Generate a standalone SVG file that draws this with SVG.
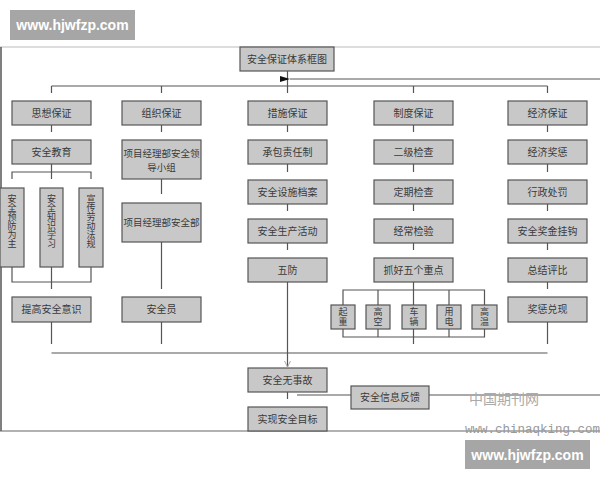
<svg xmlns="http://www.w3.org/2000/svg" width="600" height="480" viewBox="0 0 600 480">
<defs>
<style>
.b{fill:#c8c8c8;stroke:#555;stroke-width:1.2}
.t{font-family:"Noto Sans CJK SC","Noto Sans",sans-serif;font-size:10px;fill:#3a3a3a;text-anchor:middle}
.v{font-family:"Noto Sans CJK SC","Noto Sans",sans-serif;font-size:9px;fill:#3a3a3a;text-anchor:middle;writing-mode:vertical-rl}
.c{fill:none;stroke:#555;stroke-width:1.2}
.wm{fill:#a6a6a6}
.wmt{font-family:"Liberation Sans",Arial,sans-serif;font-size:14px;font-weight:bold;fill:#fff;text-anchor:middle}
</style>
<marker id="ah" viewBox="0 0 10 6" refX="0" refY="3" markerWidth="10" markerHeight="6" markerUnits="userSpaceOnUse" orient="auto-start-reverse">
<path d="M0,3 L10,0 L10,6 Z" fill="#111"/>
</marker>
<marker id="ag" viewBox="0 0 8 8" refX="7" refY="4" markerWidth="8" markerHeight="8" markerUnits="userSpaceOnUse" orient="auto">
<path d="M1,1 L7,4 L1,7" fill="none" stroke="#aaa" stroke-width="1"/>
</marker>
</defs>
<rect width="600" height="480" fill="#fff"/>
<!-- frame -->
<line x1="0" y1="47" x2="600" y2="47" stroke="#bbb" stroke-width="1.2"/>
<line x1="1" y1="47" x2="1" y2="431" stroke="#555" stroke-width="1.5"/>
<line x1="0" y1="431" x2="600" y2="431" stroke="#666" stroke-width="1.2"/>

<g id="connectors" class="c">
<path d="M287.5,71 V86"/>
<path d="M51.5,86 H547.5"/>
<path d="M51.5,86 V93 M161.5,86 V93 M287.5,86 V93 M413.5,86 V93 M547.5,86 V93"/>
<path d="M51.5,125 V132 M161.5,125 V132 M287.5,125 V132 M413.5,125 V132 M547.5,125 V132"/>
<path d="M287.5,164 V172 M413.5,164 V172 M547.5,164 V172"/>
<path d="M287.5,204 V211 M413.5,204 V211 M547.5,204 V211"/>
<path d="M287.5,243 V250 M413.5,243 V250 M547.5,243 V250"/>
<path d="M547.5,282 V289"/>
<!-- col 1 -->
<path d="M51.5,164 V172 M12,179 V172 H91 V179 M51.5,172 V179"/>
<path d="M12,267 V282 H91 V267 M51.5,267 V289"/>
<path d="M51.5,322 V344"/>
<!-- col 2 -->
<path d="M161.5,179 V194 M161.5,242 V289 M161.5,322 V344"/>
<!-- col 4 -->
<path d="M413.5,282 V290 M343,305 V290 H484.5 V305 M378,290 V305 M413.5,290 V305 M449,290 V305"/>
<path d="M343,329 V337 H484.5 V329 M378,329 V337 M413.5,329 V344 M449,329 V337"/>
<!-- col 5 -->
<path d="M547.5,322 V344"/>
<!-- bottom bar -->
<path d="M51.5,353 H547.5"/>
<path d="M287.5,282 V367" marker-end="url(#ag)"/>
<path d="M287.5,392 V399"/>
<path d="M297,395 H351 M429,395 H600"/>
<path d="M600,79 H290" marker-end="url(#ah)"/>
</g>

<g id="n-root"><rect class="b" x="240" y="47" width="94" height="24"/><text class="t" x="287" y="63">安全保证体系框图</text></g>

<g id="n-sixiang"><rect class="b" x="12" y="101" width="79" height="24"/><text class="t" x="51.5" y="117">思想保证</text></g>
<g id="n-zuzhi"><rect class="b" x="122" y="101" width="79" height="24"/><text class="t" x="161.5" y="117">组织保证</text></g>
<g id="n-cuoshi"><rect class="b" x="248" y="101" width="79" height="24"/><text class="t" x="287.5" y="117">措施保证</text></g>
<g id="n-zhidu"><rect class="b" x="374" y="101" width="79" height="24"/><text class="t" x="413.5" y="117">制度保证</text></g>
<g id="n-jingji"><rect class="b" x="508" y="101" width="79" height="24"/><text class="t" x="547.5" y="117">经济保证</text></g>

<g id="n-jiaoyu"><rect class="b" x="12" y="140" width="79" height="24"/><text class="t" x="51.5" y="156">安全教育</text></g>
<g id="n-yf"><rect class="b" x="0" y="188" width="24" height="79"/><text class="v" x="12" y="221">安全预防为主</text></g>
<g id="n-zs"><rect class="b" x="40" y="188" width="23" height="79"/><text class="v" x="51.5" y="221">安全知识学习</text></g>
<g id="n-xc"><rect class="b" x="79" y="188" width="24" height="79"/><text class="v" x="91" y="221">宣传劳动法规</text></g>
<g id="n-tigao"><rect class="b" x="12" y="297" width="79" height="25"/><text class="t" x="51.5" y="313">提高安全意识</text></g>

<g id="n-lingdao"><rect class="b" x="122" y="140" width="79" height="39"/><text class="t" style="font-size:9.5px"><tspan x="161.5" y="157">项目经理部安全领</tspan><tspan x="161.5" y="171">导小组</tspan></text></g>
<g id="n-anquanbu"><rect class="b" x="122" y="203" width="79" height="39"/><text class="t" style="font-size:9.5px" x="161.5" y="226">项目经理部安全部</text></g>
<g id="n-anquanyuan"><rect class="b" x="122" y="297" width="79" height="25"/><text class="t" x="161.5" y="313">安全员</text></g>

<g id="n-chengbao"><rect class="b" x="248" y="140" width="79" height="24"/><text class="t" x="287.5" y="156">承包责任制</text></g>
<g id="n-dangan"><rect class="b" x="248" y="180" width="79" height="24"/><text class="t" x="287.5" y="196">安全设施档案</text></g>
<g id="n-huodong"><rect class="b" x="248" y="219" width="79" height="24"/><text class="t" x="287.5" y="235">安全生产活动</text></g>
<g id="n-wufang"><rect class="b" x="248" y="258" width="79" height="24"/><text class="t" x="287.5" y="274">五防</text></g>

<g id="n-erji"><rect class="b" x="374" y="140" width="79" height="24"/><text class="t" x="413.5" y="156">二级检查</text></g>
<g id="n-dingqi"><rect class="b" x="374" y="180" width="79" height="24"/><text class="t" x="413.5" y="196">定期检查</text></g>
<g id="n-jingchang"><rect class="b" x="374" y="219" width="79" height="24"/><text class="t" x="413.5" y="235">经常检验</text></g>
<g id="n-zhuahao"><rect class="b" x="374" y="258" width="79" height="24"/><text class="t" x="413.5" y="274">抓好五个重点</text></g>
<g id="n-qizhong"><rect class="b" x="331" y="305" width="24" height="24"/><text class="v" style="letter-spacing:1px" x="343" y="317">起重</text></g>
<g id="n-gaokong"><rect class="b" x="366" y="305" width="24" height="24"/><text class="v" style="letter-spacing:1px" x="378" y="317">高空</text></g>
<g id="n-cheliang"><rect class="b" x="402" y="305" width="24" height="24"/><text class="v" style="letter-spacing:1px" x="414" y="317">车辆</text></g>
<g id="n-yongdian"><rect class="b" x="437" y="305" width="24" height="24"/><text class="v" style="letter-spacing:1px" x="449" y="317">用电</text></g>
<g id="n-gaowen"><rect class="b" x="472" y="305" width="25" height="24"/><text class="v" style="letter-spacing:1px" x="484.5" y="317">高温</text></g>

<g id="n-jiangcheng"><rect class="b" x="508" y="140" width="79" height="24"/><text class="t" x="547.5" y="156">经济奖惩</text></g>
<g id="n-chufa"><rect class="b" x="508" y="180" width="79" height="24"/><text class="t" x="547.5" y="196">行政处罚</text></g>
<g id="n-jiangjin"><rect class="b" x="508" y="219" width="79" height="24"/><text class="t" x="547.5" y="235">安全奖金挂钩</text></g>
<g id="n-pingbi"><rect class="b" x="508" y="258" width="79" height="24"/><text class="t" x="547.5" y="274">总结评比</text></g>
<g id="n-duixian"><rect class="b" x="508" y="297" width="79" height="25"/><text class="t" x="547.5" y="313">奖惩兑现</text></g>

<g id="n-wushigu"><rect class="b" x="248" y="368" width="79" height="24"/><text class="t" x="287.5" y="384">安全无事故</text></g>
<g id="n-fankui"><rect class="b" x="351" y="386" width="78" height="23"/><text class="t" x="390" y="401">安全信息反馈</text></g>
<g id="n-mubiao"><rect class="b" x="248" y="407" width="79" height="24"/><text class="t" x="287.5" y="423">实现安全目标</text></g>

<!-- watermarks -->
<text x="469" y="404" font-family="'Noto Sans CJK SC',sans-serif" font-size="14" fill="#aaa">中国期刊网</text>
<text x="465" y="433" font-family="'Liberation Mono',monospace" font-size="12.5" fill="#999">www.chinaqking.com</text>
<rect class="wm" x="10" y="10" width="125" height="30"/>
<text class="wmt" x="72.5" y="30">www.hjwfzp.com</text>
<rect class="wm" x="465" y="440" width="125" height="29"/>
<text class="wmt" x="527.5" y="460">www.hjwfzp.com</text>
</svg>
